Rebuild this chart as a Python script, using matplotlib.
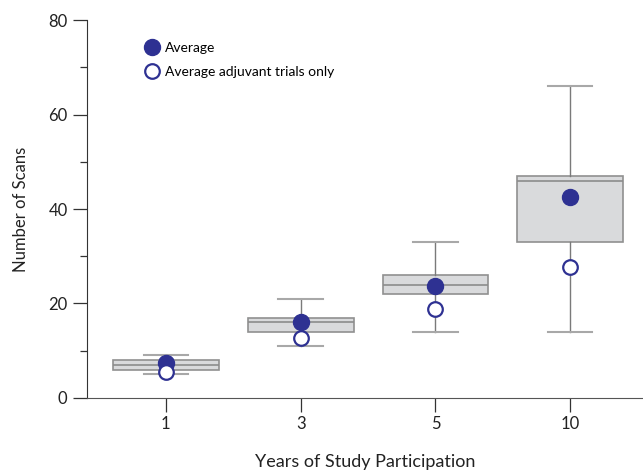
import matplotlib.pyplot as plt
from matplotlib.ticker import MultipleLocator

plt.rcParams['font.family'] = ['Lato', 'DejaVu Sans']

# data
years = ['1', '3', '5', '10']
q1 = [6, 14, 22, 33]
median = [7, 16, 24, 46]
q3 = [8, 17, 26, 47]
whis_lo = [5, 11, 14, 14]
whis_hi = [9, 21, 33, 66]
avg_all = [7.4, 16, 23.8, 42.5]
avg_adjuvant = [5.5, 12.8, 18.8, 27.8]

blue = '#2e3192'
pos = list(range(1, len(years) + 1))

stats = []
for i in range(len(years)):
    stats.append({'med': median[i], 'q1': q1[i], 'q3': q3[i],
                  'whislo': whis_lo[i], 'whishi': whis_hi[i], 'fliers': []})

fig = plt.figure(figsize=(6.43, 4.72), dpi=100)
ax = fig.add_axes([0.1353, 0.1568, 0.8647, 0.8008])

ax.bxp(stats, positions=pos, widths=0.785, patch_artist=True, showfliers=False,
       boxprops=dict(facecolor='#d9dadc', edgecolor='#909090', linewidth=1.2),
       medianprops=dict(color='#8c8c8c', linewidth=1.2),
       whiskerprops=dict(color='#7a7a7a', linewidth=1.0),
       capprops=dict(color='#a8a8a8', linewidth=1.5),
       capwidths=0.33)

ax.plot(pos, avg_all, 'o', color=blue, markersize=11.5, linestyle='none',
        zorder=5, label='Average')
ax.plot(pos, avg_adjuvant, 'o', markerfacecolor='white', markeredgecolor=blue,
        markeredgewidth=1.6, markersize=10.5, linestyle='none', zorder=5,
        label='Average adjuvant trials only')

ax.set_xlim(0.415, 4.54)
ax.set_ylim(0, 80)
ax.set_xticks(pos)
ax.set_xticklabels(years)
ax.yaxis.set_major_locator(MultipleLocator(20))
ax.yaxis.set_minor_locator(MultipleLocator(10))

for s in ['top', 'right']:
    ax.spines[s].set_visible(False)
ax.spines['left'].set_color('#333333')
ax.spines['bottom'].set_color('#555555')

ax.tick_params(axis='both', which='major', length=10, width=0.9, color='#333333',
               labelsize=12, labelcolor='#222222', pad=4)
ax.tick_params(axis='x', which='major', pad=3)
ax.tick_params(axis='y', which='minor', length=5, width=0.9, color='#333333')

ax.set_ylabel('Number of Scans', fontsize=12, color='#222222', labelpad=14)
ax.set_xlabel('Years of Study Participation', fontsize=13, color='#222222', labelpad=16)

ax.legend(loc='upper left', bbox_to_anchor=(0.092, 0.956), frameon=False,
          fontsize=10, handletextpad=0.3, labelspacing=0.85, borderaxespad=0,
          handlelength=1.2)

fig.savefig('out.png', dpi=100)
